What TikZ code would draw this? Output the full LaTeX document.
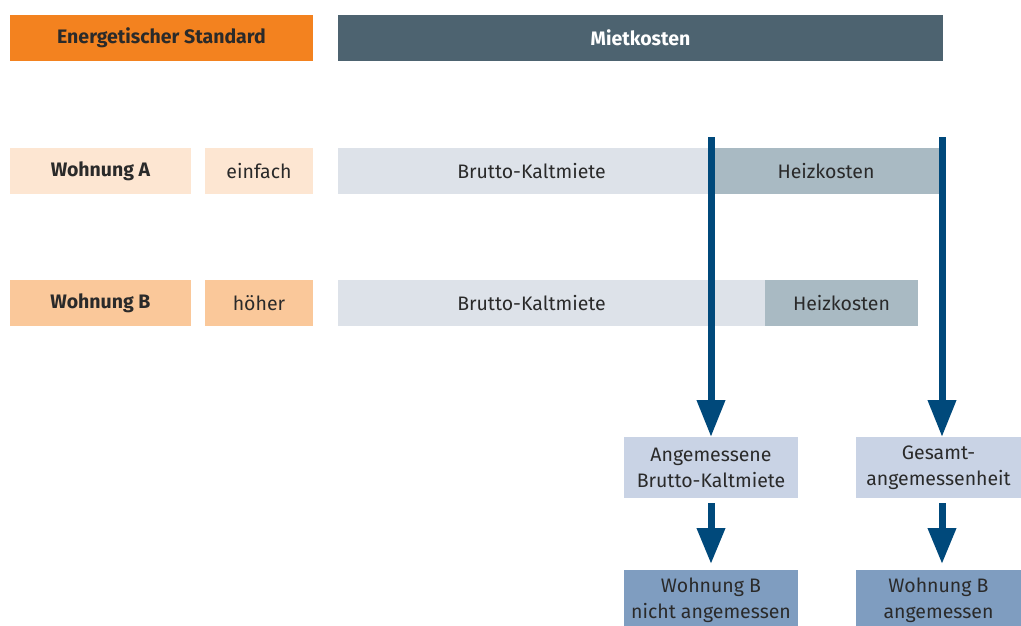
\documentclass[tikz,border=0pt]{standalone}
\usepackage{fontspec}
\setmainfont{Fira Sans}
\usetikzlibrary{arrows.meta}
\definecolor{orangeH}{HTML}{F3821F}
\definecolor{slateH}{HTML}{4D6370}
\definecolor{peachA}{HTML}{FDE6D2}
\definecolor{peachB}{HTML}{FAC89A}
\definecolor{kaltC}{HTML}{DDE2E9}
\definecolor{heizC}{HTML}{A9BAC3}
\definecolor{resC}{HTML}{C9D3E5}
\definecolor{outC}{HTML}{7F9DC0}
\definecolor{arrowC}{HTML}{00497B}
\definecolor{txtC}{HTML}{2A2A2A}
\newcommand{\rbox}[7]{%
  \pgfmathsetmacro{\bw}{#4-#2}\pgfmathsetmacro{\bh}{#5-#3}%
  \node[box,#6,minimum width=\bw pt,minimum height=\bh pt] (#1) at ({(#2+#4)/2},{(#3+#5)/2}) {#7};}
\begin{document}
\begin{tikzpicture}[x=1pt,y=-1pt,
  box/.style={inner sep=0pt,outer sep=0pt,text=txtC,font=\fontsize{19.5}{26}\selectfont,align=center},
  bld/.style={font=\fontsize{19.5}{26}\selectfont\bfseries},
  lbl/.style={inner sep=0pt,text=txtC,font=\fontsize{19.5}{26}\selectfont},
  bigarrow/.style={draw=arrowC,line width=7pt,-{Triangle[length=37pt,width=27pt]}},
  smallarrow/.style={draw=arrowC,line width=7pt,-{Triangle[length=36pt,width=27pt]}}]
\useasboundingbox[fill=white] (0,0) rectangle (1021,626);
\rbox{std}{10}{15}{313}{61}{fill=orangeH,bld}{Energetischer Standard}
\rbox{miet}{338}{15}{943}{61}{fill=slateH,bld,text=white}{Mietkosten}
\rbox{wa}{10}{148}{191}{194}{fill=peachA,bld}{Wohnung A}
\rbox{ea}{205}{148}{313}{194}{fill=peachA}{einfach}
\rbox{ka}{338}{148}{712}{194}{fill=kaltC}{}
\rbox{ha}{712}{148}{940}{194}{fill=heizC}{Heizkosten}
\rbox{wb}{10}{280}{191}{326}{fill=peachB,bld}{Wohnung B}
\rbox{eb}{205}{280}{313}{326}{fill=peachB}{höher}
\rbox{kb}{338}{280}{765}{326}{fill=kaltC}{}
\rbox{hb}{765}{280}{918}{326}{fill=heizC}{Heizkosten}
\node[lbl] (kal) at (531.5,171) {Brutto-Kaltmiete};
\node[lbl] (kbl) at (531.5,303) {Brutto-Kaltmiete};
\rbox{ang}{624}{437}{798}{498}{fill=resC}{Angemessene\\Brutto-Kaltmiete}
\rbox{ges}{856}{437}{1021}{498}{fill=resC}{Gesamt-\\angemessenheit}
\rbox{nA}{624}{570}{798}{630}{fill=outC}{Wohnung B\\nicht angemessen}
\rbox{nG}{856}{570}{1021}{630}{fill=outC}{Wohnung B\\angemessen}
\coordinate (s1) at (711,137);
\coordinate (s2) at (942,137);
\coordinate (e1) at (711,437);
\coordinate (e2) at (942,437);
\coordinate (t1) at (711,503);
\coordinate (t2) at (942,503);
\coordinate (u1) at (711,564);
\coordinate (u2) at (942,564);
\draw[bigarrow] (s1) -- (e1);
\draw[bigarrow] (s2) -- (e2);
\draw[smallarrow] (t1) -- (u1);
\draw[smallarrow] (t2) -- (u2);
\end{tikzpicture}
\end{document}
